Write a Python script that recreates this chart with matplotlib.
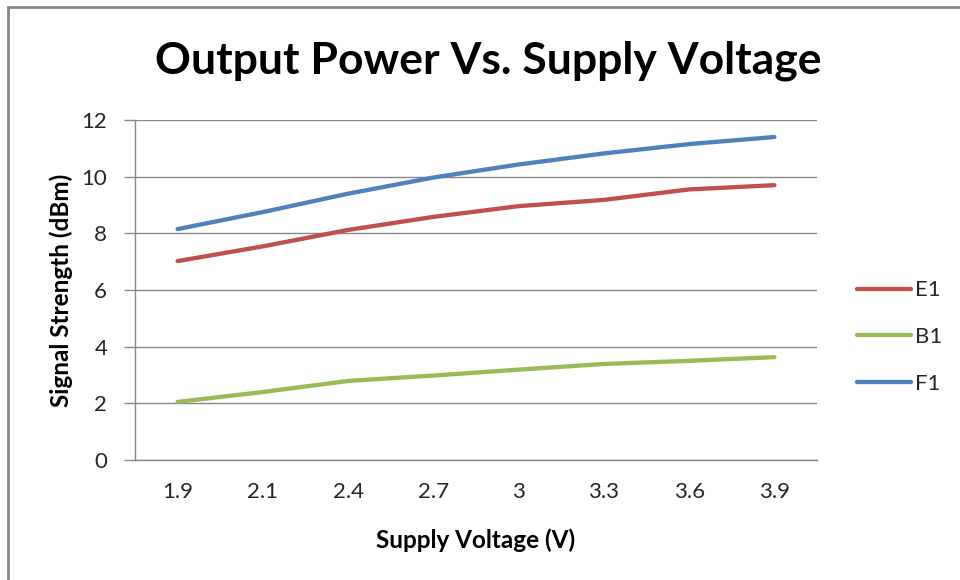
import matplotlib
matplotlib.use("Agg")
import matplotlib.pyplot as plt
from matplotlib.patches import Rectangle

categories = ["1.9", "2.1", "2.4", "2.7", "3", "3.3", "3.6", "3.9"]
e1 = [7.02, 7.54, 8.12, 8.58, 8.96, 9.18, 9.55, 9.70]
b1 = [2.05, 2.40, 2.79, 2.98, 3.19, 3.39, 3.50, 3.63]
f1 = [8.15, 8.75, 9.40, 9.97, 10.43, 10.82, 11.15, 11.40]
yticks = [0, 2, 4, 6, 8, 10, 12]

plt.rcParams['font.family'] = ['Lato', 'DejaVu Sans']

fig = plt.figure(figsize=(9.6, 5.8), dpi=100)
ax = fig.add_axes([135/960, 1-460/580, (817-135)/960, (460-120)/580])

x = list(range(len(categories)))
ax.plot(x, e1, color='#C0504D', lw=3.1, solid_capstyle='round', label='E1')
ax.plot(x, b1, color='#9BBB59', lw=3.1, solid_capstyle='round', label='B1')
ax.plot(x, f1, color='#4F81BD', lw=3.1, solid_capstyle='round', label='F1')

ax.set_xlim(-0.5, len(categories) - 0.5)
ax.set_ylim(0, 12)
ax.set_yticks(yticks)
ax.set_yticklabels([str(v) for v in yticks], fontsize=16, color='#262626')
ax.set_xticks(x)
ax.set_xticklabels(categories, fontsize=16, color='#262626')
ax.tick_params(axis='x', length=0, pad=16)
ax.tick_params(axis='y', length=8, width=1, color='#888888', pad=12)
ax.grid(axis='y', color='#888888', lw=1)
ax.set_axisbelow(True)
for s in ['top', 'right']:
    ax.spines[s].set_visible(False)
for s in ['left', 'bottom']:
    ax.spines[s].set_color('#888888')
    ax.spines[s].set_linewidth(1)

ax.set_ylabel('Signal Strength (dBm)', fontsize=17.5, fontweight='bold', labelpad=6)
ax.set_xlabel('Supply Voltage (V)', fontsize=17.5, fontweight='bold', labelpad=19)

fig.text(488/960, 1-61/580, 'Output Power Vs. Supply Voltage', fontsize=32,
         fontweight='bold', ha='center', va='center')

leg = fig.legend(loc='center left', bbox_to_anchor=(857/960, 1-337/580),
                 frameon=False, fontsize=16, handlelength=2.45, labelspacing=1.2,
                 handletextpad=0.15, borderaxespad=0, borderpad=0)
for t in leg.get_texts():
    t.set_color('#262626')

fig.patches.append(Rectangle((8/960, -0.1), 1.2, 1 - 7/580 + 0.1, transform=fig.transFigure,
                             fill=False, edgecolor='#888888', lw=2))

fig.savefig('out.png', dpi=100)
